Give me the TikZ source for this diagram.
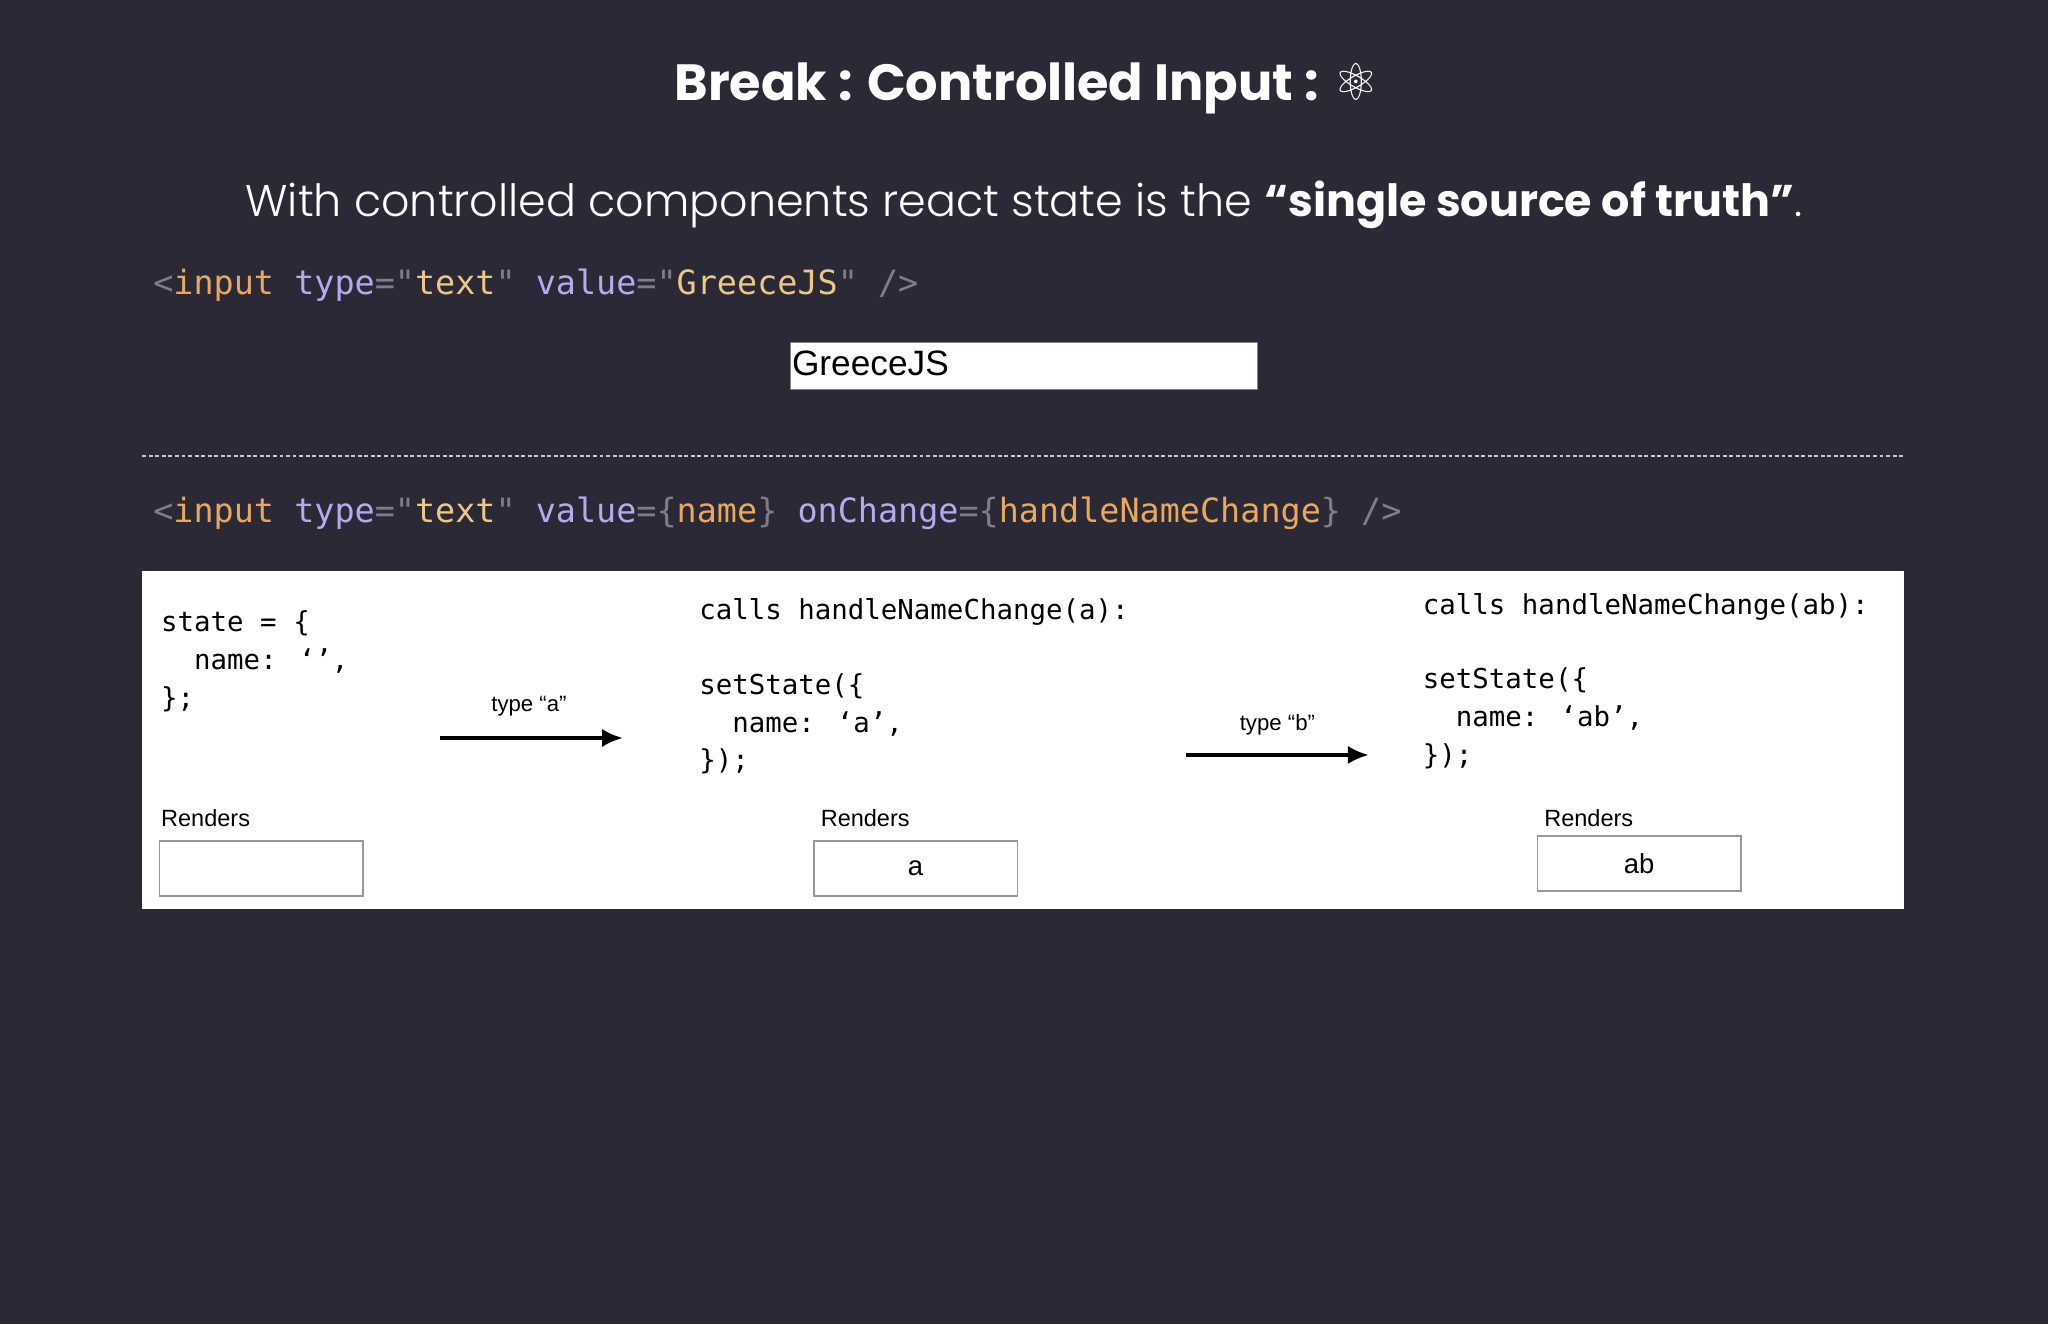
\documentclass[tikz,border=0pt]{standalone}
\usepackage{fontspec}
\setmainfont{Poppins}
\newfontfamily\poplight{Poppins Light}
\newfontfamily\djv{DejaVu Sans}
\newfontfamily\mono{DejaVu Sans Mono}
\newfontfamily\arl{Liberation Sans}
\definecolor{bg}{HTML}{2A2935}
\definecolor{tg}{HTML}{7F7D8C}
\definecolor{kw}{HTML}{E8A860}
\definecolor{at}{HTML}{B9A8EE}
\definecolor{st}{HTML}{EBC888}
\usetikzlibrary{arrows.meta}
\tikzset{code/.style={anchor=west,inner sep=0,font=\mono\fontsize{12.8}{15}\selectfont},
 wcode/.style={anchor=north west,inner sep=0,align=left,text=black,font=\mono\fontsize{10.5}{14.5}\selectfont},
 lbl/.style={anchor=west,inner sep=0,text=black,font=\arl\fontsize{9}{10}\selectfont},
 rbox/.style={draw=black!40,line width=0.6pt,fill=white,minimum width=78pt,minimum height=21pt,inner sep=0,text=black,font=\arl\fontsize{10.5}{12}\selectfont},
 arr/.style={line width=1.5pt,-{Latex[length=8pt,width=7pt]}}}
\begin{document}
\begin{tikzpicture}[x=0.5pt,y=-0.5pt]
\fill[bg] (0,0) rectangle (1568,1014);
\useasboundingbox (0,0) rectangle (1568,1014);
\node[text=white,font=\fontsize{19.5}{22}\selectfont\bfseries] (title) at (786,68) {Break : Controlled Input : {\djv ⚛}};
\node[text=white,font=\poplight\fontsize{17}{20}\selectfont] (sub) at (784,157) {With controlled components react state is the {\fontspec{Poppins}\bfseries “single source of truth”}.};
\node[code] (c1) at (117,218) {\textcolor{tg}{<}\textcolor{kw}{input} \textcolor{at}{type}\textcolor{tg}{="}\textcolor{st}{text}\textcolor{tg}{"} \textcolor{at}{value}\textcolor{tg}{="}\textcolor{st}{GreeceJS}\textcolor{tg}{"} \textcolor{tg}{/>}};
\node[draw=black!50,fill=white,minimum width=179pt,minimum height=18pt,inner sep=0] (in1) at (784,280) {};
\node[anchor=west,inner sep=0,font=\arl\fontsize{13.5}{15}\selectfont] (in1t) at (606,278) {GreeceJS};
\draw[white!75!bg,dash pattern=on 1.5pt off 1pt,line width=0.5pt] (109,349) -- (1458,349);
\node[code] (c2) at (117,393) {\textcolor{tg}{<}\textcolor{kw}{input} \textcolor{at}{type}\textcolor{tg}{="}\textcolor{st}{text}\textcolor{tg}{"} \textcolor{at}{value}\textcolor{tg}{=\{}\textcolor{kw}{name}\textcolor{tg}{\}} \textcolor{at}{onChange}\textcolor{tg}{=\{}\textcolor{kw}{handleNameChange}\textcolor{tg}{\}} \textcolor{tg}{/>}};
\fill[white] (109,437) rectangle (1458,696);
\node[wcode] (s0) at (123,467) {state = \{\\\ \ name: ‘’,\\\};};
\node[wcode] (s1) at (535,458) {calls handleNameChange(a):\\[14pt]setState(\{\\\ \ name: ‘a’,\\\});};
\node[wcode] (s2) at (1089,454) {calls handleNameChange(ab):\\[14pt]setState(\{\\\ \ name: ‘ab’,\\\});};
\coordinate (a1s) at (337,565); \coordinate (a1e) at (477,565);
\coordinate (a2s) at (908,578); \coordinate (a2e) at (1048,578);
\draw[arr] (a1s) -- (a1e);
\draw[arr] (a2s) -- (a2e);
\node[text=black,font=\arl\fontsize{8.5}{10}\selectfont] (t1) at (405,541) {type “a”};
\node[text=black,font=\arl\fontsize{8.5}{10}\selectfont] (t2) at (978,555) {type “b”};
\node[lbl] (r0) at (123,626) {Renders};
\node[lbl] (r1) at (628,626) {Renders};
\node[lbl] (r2) at (1182,626) {Renders};
\node[rbox] (b0) at (200,665) {};
\node[rbox] (b1) at (701,665) {a};
\node[rbox] (b2) at (1255,661) {ab};
\end{tikzpicture}
\end{document}
